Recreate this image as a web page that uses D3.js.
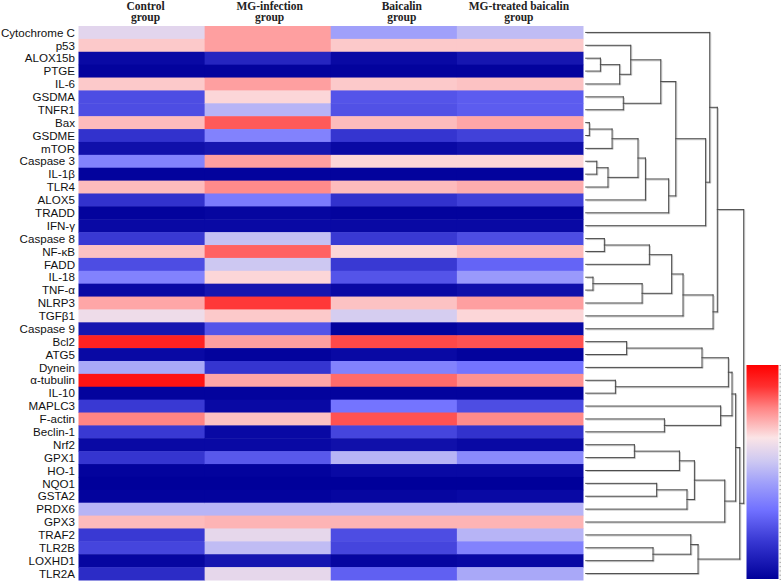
<!DOCTYPE html>
<html><head><meta charset="utf-8">
<script src="https://cdn.jsdelivr.net/npm/d3@7"></script>
<style>html,body{margin:0;padding:0;background:#fff;} svg{display:block;}</style>
</head><body>
<svg id="chart" width="784" height="583"></svg>
<script>
// ---------------- DATA ----------------
const genes = ["Cytochrome C","p53","ALOX15b","PTGE","IL-6","GSDMA","TNFR1","Bax","GSDME","mTOR","Caspase 3","IL-1β","TLR4","ALOX5","TRADD","IFN-γ","Caspase 8","NF-κB","FADD","IL-18","TNF-α","NLRP3","TGFβ1","Caspase 9","Bcl2","ATG5","Dynein","α-tubulin","IL-10","MAPLC3","F-actin","Beclin-1","Nrf2","GPX1","HO-1","NQO1","GSTA2","PRDX6","GPX3","TRAF2","TLR2B","LOXHD1","TLR2A"];
const groups = ["Control group","MG-infection group","Baicalin group","MG-treated baicalin group"];
const groupLines = [["Control","group"],["MG-infection","group"],["Baicalin","group"],["MG-treated baicalin","group"]];

// relative expression (0 = lowest, 1 = highest) per group, in gene order
const control     = [0.60,0.70,0.03,0.01,0.70,0.23,0.23,0.72,0.16,0.05,0.37,0.01,0.72,0.16,0.01,0.03,0.18,0.71,0.23,0.37,0.03,0.75,0.63,0.07,0.93,0.03,0.47,0.96,0.01,0.18,0.80,0.18,0.03,0.17,0.01,0.00,0.01,0.50,0.72,0.18,0.21,0.02,0.14];
const mgInfection = [0.76,0.76,0.12,0.01,0.76,0.68,0.50,0.85,0.37,0.07,0.76,0.01,0.79,0.35,0.02,0.03,0.53,0.84,0.55,0.68,0.07,0.89,0.70,0.25,0.76,0.01,0.17,0.75,0.01,0.03,0.71,0.03,0.03,0.26,0.01,0.00,0.01,0.50,0.73,0.61,0.52,0.07,0.61];
const baicalin    = [0.45,0.70,0.03,0.01,0.70,0.25,0.24,0.72,0.17,0.03,0.68,0.01,0.72,0.16,0.01,0.03,0.18,0.68,0.18,0.25,0.03,0.71,0.57,0.01,0.87,0.03,0.37,0.83,0.01,0.33,0.86,0.21,0.05,0.50,0.03,0.00,0.02,0.50,0.73,0.23,0.21,0.02,0.28];
const mgTreated   = [0.52,0.70,0.07,0.01,0.71,0.27,0.27,0.75,0.20,0.05,0.68,0.01,0.74,0.20,0.01,0.03,0.23,0.72,0.29,0.43,0.05,0.76,0.68,0.03,0.86,0.01,0.33,0.78,0.01,0.23,0.79,0.16,0.03,0.39,0.03,0.00,0.03,0.50,0.73,0.50,0.37,0.03,0.47];
const seriesValues = [control, mgInfection, baicalin, mgTreated];

// hierarchical clustering of genes: [left, right, merge distance]; numbers refer to earlier merges
const merges = [
  ["ALOX15b","PTGE",0.93],[0,"IL-6",2.15],["p53",1,2.85],["GSDMA","TNFR1",2.38],[2,3,4.75],
  ["Bax","GSDME",0.23],[5,"mTOR",1.67],["Caspase 3","IL-1β",0.70],[7,"TLR4",1.41],[6,8,3.31],
  [9,"ALOX5",3.78],[10,"TRADD",5.25],[4,11,5.70],[12,"IFN-γ",7.59],["Cytochrome C",13,7.85],
  ["Caspase 8","NF-κB",1.18],[15,"FADD",4.03],["IL-18","TNF-α",0.46],[17,"NLRP3",3.57],[16,18,5.44],
  [19,"TGFβ1",6.16],[20,"Caspase 9",8.06],[14,21,8.33],["Bcl2","ATG5",2.59],[23,"Dynein",7.36],
  ["α-tubulin","IL-10",1.88],[24,25,9.03],["F-actin","Beclin-1",4.98],["MAPLC3",27,8.54],[26,28,9.26],
  ["Nrf2","GPX1",3.08],[30,"HO-1",5.93],["NQO1","GSTA2",4.49],[32,"PRDX6",6.41],[31,33,6.88],
  [34,"GPX3",8.80],[29,35,9.49],["TLR2B","LOXHD1",4.26],["TRAF2",37,6.65],[38,"TLR2A",7.11],
  [36,39,9.75],[22,40,10.0]
];

// colour map stops (value -> colour)
const colorStops  = [0, 0.17, 0.32, 0.45, 0.55, 0.66, 0.80, 0.90, 1.0];
const colorValues = ["#00009a","#3535d0","#7070ff","#a0a0fa","#cdc8f2","#fbe4e6","#ff8484","#ff3030","#ff0000"];

// ---------------- LAYOUT ----------------
const svg = d3.select("#chart");
const hm = {left: 78.5, right: 583, top: 26, bottom: 580};

const x = d3.scaleBand().domain(groups).range([hm.left, hm.right]).padding(0);
const y = d3.scaleBand().domain(genes).range([hm.top, hm.bottom]).padding(0);
const color = d3.scaleLinear().domain(colorStops).range(colorValues).interpolate(d3.interpolateRgb).clamp(true);

// cells
const cells = [];
groups.forEach((g, gi) => genes.forEach((gene, ri) => cells.push({g, gene, v: seriesValues[gi][ri]})));
svg.append("g").selectAll("rect").data(cells).join("rect")
  .attr("x", d => x(d.g)).attr("y", d => y(d.gene))
  .attr("width", x.bandwidth() + 0.5).attr("height", y.bandwidth() + 0.5)
  .attr("fill", d => color(d.v));

// row labels
svg.append("g").selectAll("text").data(genes).join("text")
  .attr("x", hm.left - 3.5).attr("y", d => y(d) + y.bandwidth() / 2).attr("dy", "0.36em")
  .attr("text-anchor", "end").attr("font-family", "Liberation Sans, Arial, sans-serif")
  .attr("font-size", 11.6).attr("fill", "#111").text(d => d);

// column headers
const headerShift = [4, 2, 8, -1];
const hg = svg.append("g").attr("font-family", "Liberation Serif, Times New Roman, serif")
  .attr("font-weight", "bold").attr("font-size", 11.5).attr("fill", "#222").attr("text-anchor", "middle");
groups.forEach((g, i) => {
  groupLines[i].forEach((line, li) => {
    hg.append("text").attr("x", x(g) + x.bandwidth() / 2 + headerShift[i])
      .attr("y", 9.5 + li * 11.4).text(line);
  });
});

// dendrogram
const hx = d3.scaleLinear().domain([0, 10]).range([585.7, 743.7]);
const nodes = merges.map(m => ({a: m[0], b: m[1], h: m[2]}));
function pos(ref) {
  if (typeof ref === "string") return {x: hx(0), y: y(ref) + y.bandwidth() / 2};
  const n = nodes[ref];
  if (n.y === undefined) { n.y = (pos(n.a).y + pos(n.b).y) / 2; }
  return {x: hx(n.h), y: n.y};
}
const segs = [];
nodes.forEach((n, i) => {
  const pa = pos(n.a), pb = pos(n.b), px = hx(n.h);
  segs.push([pa.x, pa.y, px, pa.y]);
  segs.push([pb.x, pb.y, px, pb.y]);
  segs.push([px, pa.y, px, pb.y]);
});
const dg = svg.append("g").attr("fill", "none");
dg.selectAll("line.sh").data(segs).join("line").attr("class", "sh")
  .attr("x1", d => d[0] + 1).attr("y1", d => d[1] + 1).attr("x2", d => d[2] + 1).attr("y2", d => d[3] + 1)
  .attr("stroke", "#c4c4c4").attr("stroke-width", 1);
dg.selectAll("line.ln").data(segs).join("line").attr("class", "ln")
  .attr("x1", d => d[0]).attr("y1", d => d[1]).attr("x2", d => d[2]).attr("y2", d => d[3])
  .attr("stroke", "#4a4a4a").attr("stroke-width", 1).attr("stroke-linecap", "square");

// colour bar
const cb = {x: 746.5, w: 32, top: 365, bottom: 579};
const cy = d3.scaleLinear().domain([0, 1]).range([cb.bottom, cb.top]);
const defs = svg.append("defs");
const grad = defs.append("linearGradient").attr("id", "cbar").attr("x1", 0).attr("y1", 1).attr("x2", 0).attr("y2", 0);
grad.selectAll("stop").data(colorStops).join("stop")
  .attr("offset", d => d).attr("stop-color", d => color(d));
svg.append("rect").attr("x", cb.x).attr("y", cy(1)).attr("width", cb.w).attr("height", cy(0) - cy(1))
  .attr("fill", "url(#cbar)");
const cAxis = d3.axisRight(cy).ticks(60).tickSize(1.5).tickFormat("");
svg.append("g").attr("transform", `translate(${cb.x + cb.w + 1},0)`).call(cAxis)
  .call(g => g.selectAll("line").attr("stroke", "#aaa"))
  .call(g => g.select(".domain").attr("stroke", "#ccc").attr("stroke-dasharray", "1,1"));
</script>
</body></html>
